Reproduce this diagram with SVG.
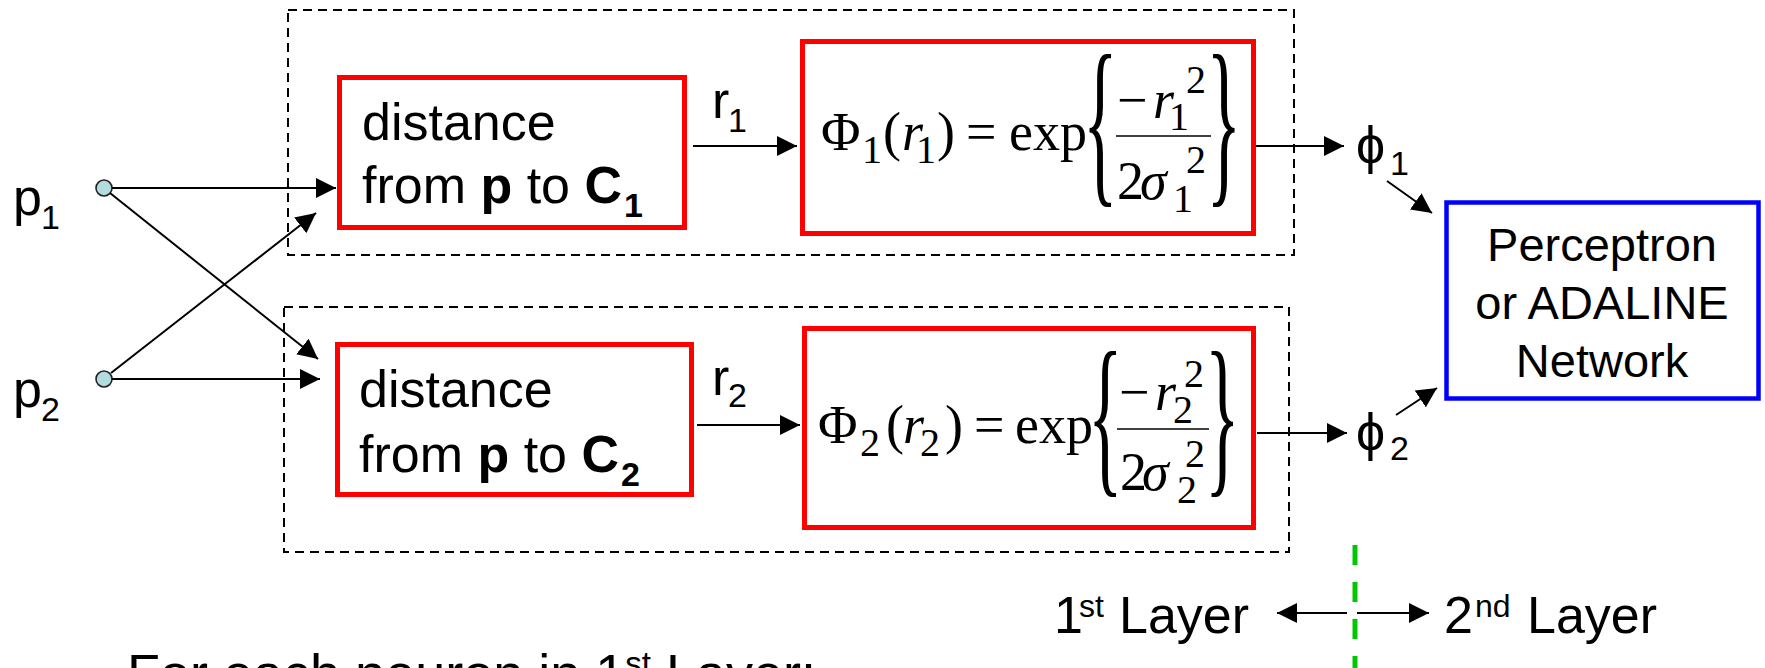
<svg xmlns="http://www.w3.org/2000/svg" width="1765" height="668" viewBox="0 0 1765 668">
<defs>
<marker id="ah" markerUnits="userSpaceOnUse" markerWidth="21" markerHeight="20" refX="20" refY="10" orient="auto" viewBox="0 0 21 20">
<path d="M0,0 L20,10 L0,20 z" fill="#000"/>
</marker>
</defs>
<style>
.sans{font-family:"Liberation Sans",Arial,sans-serif;fill:#000}
.serif{font-family:"Liberation Serif","Times New Roman",serif;fill:#000}
.big{font-size:52px}
.sbig{font-size:54px}
.sub{font-size:34px}
.ssub{font-size:40px}
.it{font-style:italic}
.bold{font-weight:bold}
.red{fill:none;stroke:#FF0000;stroke-width:5}
.blue{fill:none;stroke:#0000FF;stroke-width:4.5}
.dash{fill:none;stroke:#000;stroke-width:2;stroke-dasharray:9,6}
.conn{fill:none;stroke:#000;stroke-width:2;marker-end:url(#ah)}
.bar{stroke:#000;stroke-width:1.6}
.node{fill:#B2DCE0;stroke:#222;stroke-width:1.6}
</style>
<rect width="1765" height="668" fill="#fff"/>

<g id="layer1-neuron1-frame"><rect class="dash" x="288" y="10" width="1006" height="245"/></g>
<g id="layer1-neuron2-frame"><rect class="dash" x="284" y="307" width="1005" height="245"/></g>

<g id="input-p1">
<circle class="node" cx="104" cy="188" r="8"/>
<text class="sans big" x="13" y="215">p</text><text class="sans sub" x="41" y="229">1</text>
</g>
<g id="input-p2">
<circle class="node" cx="104" cy="379" r="8"/>
<text class="sans big" x="13" y="407">p</text><text class="sans sub" x="41" y="421">2</text>
</g>

<g id="dist1">
<rect class="red" x="339.5" y="77.5" width="345" height="150"/>
<text class="sans big" x="362" y="140">distance</text>
<text class="sans big" x="362" y="203">from <tspan class="bold">p</tspan> to <tspan class="bold">C</tspan></text>
<text class="sans sub bold" x="624" y="217">1</text>
</g>
<g id="dist2">
<rect class="red" x="337.5" y="344.5" width="354" height="150"/>
<text class="sans big" x="359" y="407">distance</text>
<text class="sans big" x="359" y="472">from <tspan class="bold">p</tspan> to <tspan class="bold">C</tspan></text>
<text class="sans sub bold" x="621" y="486">2</text>
</g>

<g id="r-labels">
<text class="sans big" x="712" y="118">r</text><text class="sans sub" x="728" y="132">1</text>
<text class="sans big" x="712" y="395">r</text><text class="sans sub" x="728" y="407">2</text>
</g>

<g id="rbf1">
<rect class="red" x="802.5" y="41.5" width="451" height="192"/>
<text class="serif sbig" x="821" y="150">Φ</text>
<text class="serif ssub" x="862" y="163">1</text>
<text class="serif sbig" x="883" y="150">(</text>
<text class="serif sbig it" x="902" y="150">r</text>
<text class="serif ssub" x="916" y="163">1</text>
<text class="serif sbig" x="937" y="150">)</text>
<text class="serif sbig" x="966" y="150">=</text>
<text class="serif sbig" x="1009" y="150">exp</text>
<text class="serif" style="font-size:72px" transform="translate(1083,181.8) scale(1,2.55)">{</text>
<text class="serif sbig" x="1117" y="118">−</text>
<text class="serif sbig it" x="1153" y="118">r</text>
<text class="serif ssub" x="1169" y="130">1</text>
<text class="serif ssub" x="1186" y="93">2</text>
<line class="bar" x1="1116" y1="136" x2="1211" y2="136"/>
<text class="serif sbig" x="1117" y="199">2</text>
<text class="serif sbig it" x="1140" y="199">σ</text>
<text class="serif ssub" x="1173" y="212">1</text>
<text class="serif ssub" x="1186" y="173">2</text>
<text class="serif" style="font-size:72px" transform="translate(1206.6,181.8) scale(1,2.55)">}</text>
</g>

<g id="rbf2">
<rect class="red" x="804.5" y="328.5" width="449" height="199"/>
<text class="serif sbig" x="818" y="443">Φ</text>
<text class="serif ssub" x="860" y="456">2</text>
<text class="serif sbig" x="886" y="443">(</text>
<text class="serif sbig it" x="903" y="443">r</text>
<text class="serif ssub" x="920" y="456">2</text>
<text class="serif sbig" x="945" y="443">)</text>
<text class="serif sbig" x="974" y="443">=</text>
<text class="serif sbig" x="1015" y="443">exp</text>
<text class="serif" style="font-size:72px" transform="translate(1088,473) scale(1,2.45)">{</text>
<text class="serif sbig" x="1119" y="410">−</text>
<text class="serif sbig it" x="1155" y="410">r</text>
<text class="serif ssub" x="1173" y="423">2</text>
<text class="serif ssub" x="1184" y="387">2</text>
<line class="bar" x1="1117" y1="429" x2="1209" y2="429"/>
<text class="serif sbig" x="1120" y="490">2</text>
<text class="serif sbig it" x="1142" y="490">σ</text>
<text class="serif ssub" x="1177" y="503">2</text>
<text class="serif ssub" x="1185" y="467">2</text>
<text class="serif" style="font-size:72px" transform="translate(1205,473) scale(1,2.45)">}</text>
</g>

<g id="phi1"><text class="sans big" x="1356" y="163">ϕ</text><text class="sans sub" x="1390" y="175">1</text></g>
<g id="phi2"><text class="sans big" x="1356" y="450">ϕ</text><text class="sans sub" x="1390" y="460">2</text></g>

<g id="perceptron">
<rect class="blue" x="1446.5" y="202.5" width="312" height="196"/>
<text class="sans" style="font-size:47px" text-anchor="middle" x="1602" y="261">Perceptron</text>
<text class="sans" style="font-size:47px" text-anchor="middle" x="1602" y="319">or ADALINE</text>
<text class="sans" style="font-size:47px" text-anchor="middle" x="1602" y="377">Network</text>
</g>

<g id="connectors">
<line class="conn" x1="112" y1="188" x2="336" y2="188"/>
<line class="conn" x1="112" y1="379" x2="320" y2="379"/>
<line class="conn" x1="110" y1="193" x2="318" y2="359"/>
<line class="conn" x1="111" y1="373" x2="316" y2="213"/>
<line class="conn" x1="693" y1="146" x2="797" y2="146"/>
<line class="conn" x1="697" y1="425" x2="800" y2="425"/>
<line class="conn" x1="1256" y1="146" x2="1344" y2="146"/>
<line class="conn" x1="1257" y1="433" x2="1347" y2="433"/>
<line class="conn" x1="1387" y1="181" x2="1432" y2="213"/>
<line class="conn" x1="1396" y1="415" x2="1437" y2="388"/>
<line class="conn" x1="1347" y1="613" x2="1277" y2="613"/>
<line class="conn" x1="1357" y1="613" x2="1429" y2="613"/>
</g>

<g id="layer-divider">
<line x1="1355" y1="545" x2="1355" y2="668" stroke="#00C800" stroke-width="5" stroke-dasharray="20,17"/>
</g>

<g id="layer-labels">
<text class="sans big" x="1054" y="633">1</text><text class="sans" style="font-size:32px" x="1079" y="617">st</text><text class="sans big" x="1119" y="633">Layer</text>
<text class="sans big" x="1444" y="633">2</text><text class="sans" style="font-size:32px" x="1475" y="617">nd</text><text class="sans big" x="1527" y="633">Layer</text>
</g>

<g id="caption">
<text class="sans" style="font-size:54px" x="127" y="692">For each neuron in 1<tspan style="font-size:33px" dy="-17">st</tspan><tspan dy="17"> Layer:</tspan></text>
</g>
</svg>
